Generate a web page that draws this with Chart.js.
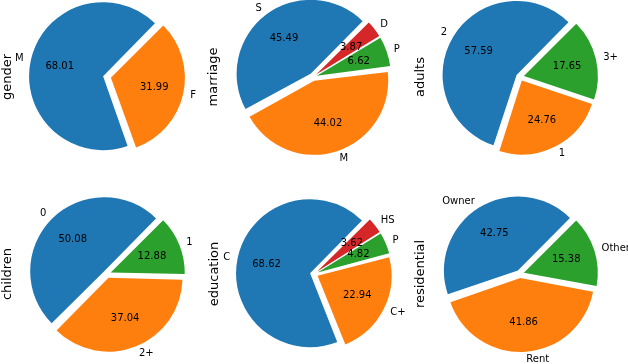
<!DOCTYPE html>
<html>
<head>
<meta charset="utf-8">
<script src="https://cdn.jsdelivr.net/npm/chart.js@4"></script>
<style>
html, body { margin: 0; padding: 0; background: #fff; overflow: hidden; }
#wrap { position: relative; width: 628px; height: 364px; overflow: hidden; }
canvas { position: absolute; }
</style>
</head>
<body>
<div id="wrap"></div>
<script>
var genderLabels = ["M", "F"];
var genderValues = [68.01, 31.99];
var marriageLabels = ["S", "M", "P", "D"];
var marriageValues = [45.49, 44.02, 6.62, 3.87];
var adultsLabels = ["2", "1", "3+"];
var adultsValues = [57.59, 24.76, 17.65];
var childrenLabels = ["0", "2+", "1"];
var childrenValues = [50.08, 37.04, 12.88];
var educationLabels = ["C", "C+", "P", "HS"];
var educationValues = [68.62, 22.94, 4.82, 3.62];
var residentialLabels = ["Owner", "Rent", "Other"];
var residentialValues = [42.75, 41.86, 15.38];

var pieColors = ["#1f77b4", "#ff7f0e", "#2ca02c", "#d62728"];

var pies = [
    { name: "gender", labels: genderLabels, values: genderValues, x: 107, y: 77 },
    { name: "marriage", labels: marriageLabels, values: marriageValues, x: 313, y: 77 },
    { name: "adults", labels: adultsLabels, values: adultsValues, x: 520, y: 77 },
    { name: "children", labels: childrenLabels, values: childrenValues, x: 107, y: 274 },
    { name: "education", labels: educationLabels, values: educationValues, x: 314, y: 274 },
    { name: "residential", labels: residentialLabels, values: residentialValues, x: 520, y: 274 }
];

var R = 74;      // pie radius
var SHIFT = 4;   // explode distance in px
var W = 240, H = 182;
var FONT = "DejaVu Sans";

// chart.js goes clockwise, matplotlib counter-clockwise -> reverse the order
function rev(a) { return a.slice().reverse(); }

var pieText = {
    id: 'pieText',
    beforeDatasetsDraw: function(chart) {
        // chart.js also grows the arc radius with offset, undo that
        chart.getDatasetMeta(0).data.forEach(function(arc) {
            var c = arc.endAngle - arc.startAngle;
            arc.outerRadius = R - SHIFT * (1 - Math.sin(Math.min(Math.PI, c)));
        });
    },
    afterDatasetsDraw: function(chart) {
        var ctx = chart.ctx;
        var area = chart.chartArea;
        var cx = (area.left + area.right) / 2;
        var cy = (area.top + area.bottom) / 2;
        var labels = chart.data.labels;
        var values = chart.data.datasets[0].data;
        ctx.save();
        ctx.fillStyle = "#000";
        ctx.font = "10px '" + FONT + "'";
        chart.getDatasetMeta(0).data.forEach(function(arc, i) {
            var mid = (arc.startAngle + arc.endAngle) / 2;
            var ox = arc.x + Math.cos(mid) * SHIFT;
            var oy = arc.y + Math.sin(mid) * SHIFT;
            var lx = ox + Math.cos(mid) * R * 1.1;
            var ly = oy + Math.sin(mid) * R * 1.1;
            ctx.textBaseline = "middle";
            ctx.textAlign = Math.cos(mid) > 0 ? "left" : "right";
            ctx.fillText(labels[i], lx, ly);
            ctx.textAlign = "center";
            ctx.fillText(values[i].toFixed(2), ox + Math.cos(mid) * R * 0.6, oy + Math.sin(mid) * R * 0.6);
        });
        // y label
        ctx.font = "13px '" + FONT + "'";
        ctx.translate(cx - 99, cy);
        ctx.rotate(-Math.PI / 2);
        ctx.textAlign = "center";
        ctx.textBaseline = "middle";
        ctx.fillText(chart.options.plugins.pieText.name, 0, 0);
        ctx.restore();
    }
};

var wrap = document.getElementById('wrap');
pies.forEach(function(p) {
    var cv = document.createElement('canvas');
    cv.width = W;
    cv.height = H;
    cv.style.left = (p.x - W / 2) + 'px';
    cv.style.top = (p.y - H / 2) + 'px';
    wrap.appendChild(cv);
    new Chart(cv, {
        type: "pie",
        data: {
            labels: rev(p.labels),
            datasets: [{
                data: rev(p.values),
                backgroundColor: rev(pieColors.slice(0, p.values.length)),
                borderWidth: 0,
                offset: SHIFT * 4
            }]
        },
        options: {
            responsive: false,
            animation: false,
            events: [],
            rotation: 45,
            radius: R,
            plugins: {
                legend: { display: false },
                tooltip: { enabled: false },
                pieText: { name: p.name }
            }
        },
        plugins: [pieText]
    });
});
</script>
</body>
</html>
